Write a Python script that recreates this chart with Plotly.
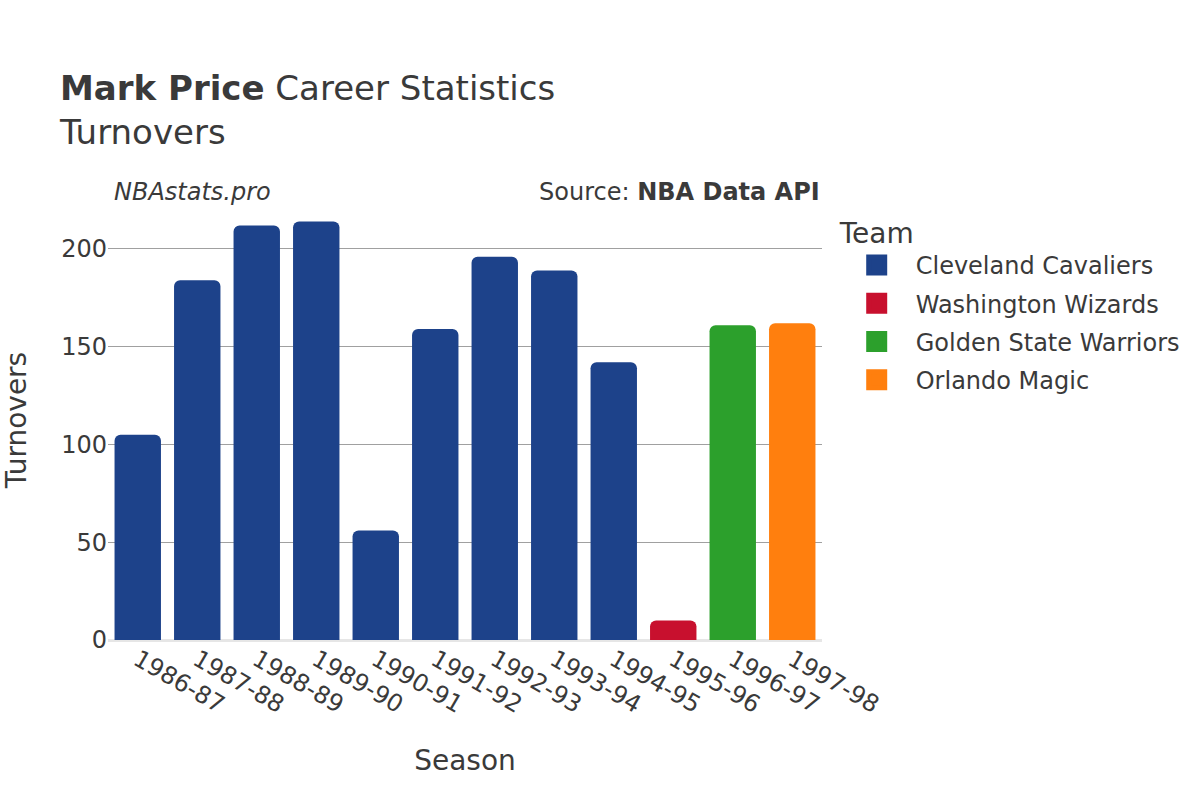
import plotly.graph_objects as go

seasons = ["1986-87", "1987-88", "1988-89", "1989-90", "1990-91", "1991-92",
           "1992-93", "1993-94", "1994-95", "1995-96", "1996-97", "1997-98"]
teams = ["Cleveland Cavaliers", "Cleveland Cavaliers", "Cleveland Cavaliers", "Cleveland Cavaliers",
         "Cleveland Cavaliers", "Cleveland Cavaliers", "Cleveland Cavaliers", "Cleveland Cavaliers",
         "Cleveland Cavaliers", "Washington Wizards", "Golden State Warriors", "Orlando Magic"]
turnovers = [105, 184, 212, 214, 56, 159, 196, 189, 142, 10, 161, 162]

team_order = ["Cleveland Cavaliers", "Washington Wizards", "Golden State Warriors", "Orlando Magic"]
team_colors = {"Cleveland Cavaliers": "#1d428a", "Washington Wizards": "#c8102e",
               "Golden State Warriors": "#2ca02c", "Orlando Magic": "#ff7f0e"}

fig = go.Figure()
for t in team_order:
    xs = [s for s, tm in zip(seasons, teams) if tm == t]
    ys = [v for v, tm in zip(turnovers, teams) if tm == t]
    fig.add_trace(go.Bar(x=xs, y=ys, name=t, marker_color=team_colors[t],
                         marker_line_width=0, legendgroup=t, showlegend=False))
    # legend entry with a larger swatch
    fig.add_trace(go.Scatter(x=[None], y=[None], mode="markers", name=t, legendgroup=t,
                             marker=dict(symbol="square", size=16, color=team_colors[t],
                                         line=dict(width=5, color=team_colors[t])),
                             showlegend=True))

font_color = "#3a3a3a"
fig.update_layout(
    width=1200, height=800,
    plot_bgcolor="white", paper_bgcolor="white",
    font=dict(family="DejaVu Sans", color=font_color, size=24),
    title=dict(text="<b>Mark Price</b> Career Statistics<br>Turnovers",
               x=0.05, xanchor="left", y=0.8755, yanchor="top",
               font=dict(size=34, color=font_color)),
    margin=dict(l=108, r=378, t=200, b=160),
    barmode="overlay", bargap=0.22, barcornerradius=6,
    showlegend=True,
    legend=dict(title=dict(text="Team", font=dict(size=28)), font=dict(size=24),
                x=1.022, y=0.985, xanchor="left", yanchor="top", tracegroupgap=4,
                itemwidth=68, itemsizing="trace"),
    xaxis=dict(title=dict(text="Season", font=dict(size=28), standoff=32), tickangle=30,
               categoryorder="array", categoryarray=seasons, showgrid=False,
               ticks="", tickfont=dict(size=24), automargin=False),
    yaxis=dict(title=dict(text="Turnovers", font=dict(size=28), standoff=39), range=[0, 225],
               showgrid=True, gridcolor="#a0a0a0", gridwidth=1,
               zeroline=True, zerolinecolor="#e6e6e6", zerolinewidth=3,
               tickvals=[0, 50, 100, 150, 200], ticks="", tickfont=dict(size=24),
               automargin=False),
    annotations=[
        dict(text="<i>NBAstats.pro</i>", xref="paper", yref="paper", x=0.0, y=1.0,
             xanchor="left", yanchor="middle", yshift=8, xshift=4, showarrow=False,
             font=dict(size=24)),
        dict(text="Source: <b>NBA Data API</b>", xref="paper", yref="paper", x=1.0, y=1.0,
             xanchor="right", yanchor="middle", yshift=8, showarrow=False, font=dict(size=24)),
    ],
)
fig.write_html("out.html", config={"displayModeBar": False},
               post_script="document.body.style.margin='0';")
